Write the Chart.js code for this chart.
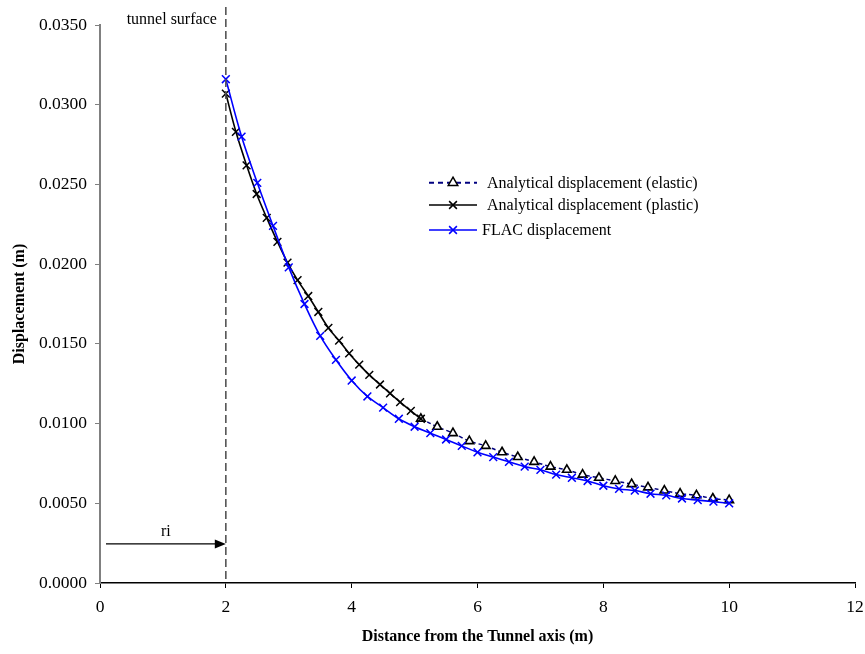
<!DOCTYPE html>
<html>
<head>
<meta charset="utf-8">
<script src="https://cdn.jsdelivr.net/npm/chart.js@4.4.1/dist/chart.umd.min.js"></script>
<style>
  html, body { margin: 0; padding: 0; background: #fff; }
  #wrap { width: 865px; height: 654px; position: relative; }
</style>
</head>
<body>
<div id="wrap"><canvas id="dispChart" width="865" height="654"></canvas></div>
<script>
// distances (m) and displacements (m)
const plasticX = [2.00, 2.16, 2.33, 2.49, 2.65, 2.82, 2.98, 3.14, 3.31, 3.47, 3.63, 3.80, 3.96, 4.12, 4.28, 4.45, 4.61, 4.77, 4.94, 5.10];
const plasticU = [0.0307, 0.0283, 0.0262, 0.0244, 0.0229, 0.0214, 0.0201, 0.0190, 0.0180, 0.0170, 0.0160, 0.0152, 0.0144, 0.0137, 0.01305, 0.01245, 0.0119, 0.01135, 0.0108, 0.0103];

const elasticX = [5.10, 5.36, 5.61, 5.87, 6.13, 6.39, 6.64, 6.90, 7.16, 7.42, 7.67, 7.93, 8.19, 8.45, 8.71, 8.97, 9.22, 9.48, 9.74, 10.00];
const elasticU = [0.0103, 0.0098, 0.0094, 0.0089, 0.0086, 0.0082, 0.0079, 0.0076, 0.0073, 0.0071, 0.0068, 0.0066, 0.0064, 0.0062, 0.0060, 0.0058, 0.0056, 0.0055, 0.0053, 0.0052];

const flacX = [2.00, 2.25, 2.50, 2.75, 3.00, 3.25, 3.50, 3.75, 4.00, 4.25, 4.50, 4.75, 5.00, 5.25, 5.50, 5.75, 6.00,
               6.25, 6.50, 6.75, 7.00, 7.25, 7.50, 7.75, 8.00, 8.25, 8.50, 8.75, 9.00, 9.25, 9.50, 9.75, 10.00];
const flacU = [0.0316, 0.0280, 0.0251, 0.0224, 0.0198, 0.0175, 0.0155, 0.0140, 0.0127, 0.0117, 0.0110, 0.0103, 0.0098, 0.0094, 0.0090, 0.0086, 0.0082,
               0.0079, 0.0076, 0.0073, 0.0071, 0.0068, 0.0066, 0.0064, 0.0061, 0.0059, 0.0058, 0.0056, 0.0055, 0.0053, 0.0052, 0.0051, 0.0050];

const xTicks = [0, 2, 4, 6, 8, 10, 12];
const yTicks = [0, 0.005, 0.010, 0.015, 0.020, 0.025, 0.030, 0.035];

const tunnelRadius = 2;
const serif = '"Liberation Serif", "Times New Roman", serif';

function pts(xs, ys){ return xs.map((x, i) => ({ x: x, y: ys[i] })); }

const legendRows = [
  { label: 'Analytical displacement (elastic)', color: '#000080', dash: [5, 4], marker: 'triangle', mColor: '#000', textX: 487 },
  { label: 'Analytical displacement (plastic)', color: '#000', dash: [], marker: 'crossRot', mColor: '#000', textX: 487 },
  { label: 'FLAC displacement', color: '#0000ff', dash: [], marker: 'crossRot', mColor: '#0000ff', textX: 482 }
];

const extras = {
  id: 'extras',
  afterDraw(c){
    const ctx = c.ctx;
    const xs = c.scales.x, ys = c.scales.y;
    const xr = xs.getPixelForValue(tunnelRadius);
    ctx.save();
    // tunnel surface line
    ctx.strokeStyle = '#555';
    ctx.lineWidth = 1.6;
    ctx.setLineDash([8, 4]);
    ctx.beginPath();
    ctx.moveTo(xr, 7);
    ctx.lineTo(xr, ys.bottom);
    ctx.stroke();
    ctx.setLineDash([]);
    ctx.fillStyle = '#000';
    ctx.font = '16px ' + serif;
    ctx.textAlign = 'right';
    ctx.textBaseline = 'middle';
    ctx.fillText('tunnel surface', xr - 9, 20);

    // ri arrow
    const ay = ys.getPixelForValue(0.00245);
    const ax0 = xs.getPixelForValue(0.095);
    ctx.strokeStyle = '#000';
    ctx.lineWidth = 1.3;
    ctx.beginPath();
    ctx.moveTo(ax0, ay);
    ctx.lineTo(xr - 8, ay);
    ctx.stroke();
    ctx.beginPath();
    ctx.moveTo(xr, ay);
    ctx.lineTo(xr - 11, ay - 4.5);
    ctx.lineTo(xr - 11, ay + 4.5);
    ctx.closePath();
    ctx.fill();
    ctx.textAlign = 'center';
    ctx.textBaseline = 'alphabetic';
    ctx.font = '16px ' + serif;
    ctx.fillText('ri', (ax0 + xr) / 2, ay - 8);

    // legend
    const rowY = [182.7, 205, 230];
    legendRows.forEach((r, i) => {
      const y = rowY[i];
      ctx.strokeStyle = r.color;
      ctx.lineWidth = r.dash.length ? 2 : 1.5;
      ctx.setLineDash(r.dash);
      ctx.beginPath();
      ctx.moveTo(429, y);
      ctx.lineTo(477, y);
      ctx.stroke();
      ctx.setLineDash([]);
      ctx.lineWidth = 1.5;
      ctx.strokeStyle = r.mColor;
      ctx.fillStyle = '#fff';
      Chart.helpers.drawPoint(ctx, { pointStyle: r.marker, radius: 5.5, borderWidth: 1.5, rotation: 0 }, 453, y);
      ctx.fillStyle = '#000';
      ctx.font = '16px ' + serif;
      ctx.textAlign = 'left';
      ctx.textBaseline = 'middle';
      ctx.fillText(r.label, r.textX, y + 1);
    });
    ctx.restore();
  }
};

new Chart(document.getElementById('dispChart'), {
  type: 'line',
  data: {
    datasets: [
      {
        label: 'FLAC displacement',
        data: pts(flacX, flacU),
        borderColor: '#0000ff', borderWidth: 1.6,
        pointStyle: 'crossRot', pointRadius: 5.5, pointBorderColor: '#0000ff', pointBorderWidth: 1.5,
        tension: 0.35, order: 0
      },
      {
        label: 'Analytical displacement (plastic)',
        data: pts(plasticX, plasticU),
        borderColor: '#000', borderWidth: 1.6,
        pointStyle: 'crossRot', pointRadius: 5.5, pointBorderColor: '#000', pointBorderWidth: 1.5,
        tension: 0.35, order: 1
      },
      {
        label: 'Analytical displacement (elastic)',
        data: pts(elasticX, elasticU),
        borderColor: '#000080', borderWidth: 1.5, borderDash: [4, 3],
        pointStyle: 'triangle', pointRadius: 5, pointBorderColor: '#000', pointBackgroundColor: '#fff', pointBorderWidth: 1.6,
        tension: 0.35, order: 2
      }
    ]
  },
  options: {
    responsive: false,
    animation: false,
    layout: { padding: { top: 25, right: 10, left: 0, bottom: 0 } },
    plugins: { legend: { display: false }, tooltip: { enabled: false } },
    scales: {
      x: {
        type: 'linear', min: 0, max: 12,
        afterBuildTicks: s => { s.ticks = xTicks.map(v => ({ value: v })); },
        afterFit: s => { s.height = 71; s.paddingRight = 0; s.paddingLeft = 0; },
        border: { color: '#000', width: 1.5 },
        grid: { drawOnChartArea: false, tickLength: 5, color: '#000', tickColor: '#000' },
        ticks: { color: '#000', font: { family: serif, size: 17.5 }, padding: 9, maxRotation: 0 },
        title: { display: true, text: 'Distance from the Tunnel axis (m)', color: '#000',
                 font: { family: serif, size: 16, weight: 'bold' }, padding: { top: 0, bottom: 8 } }
      },
      y: {
        type: 'linear', min: 0, max: 0.035,
        afterBuildTicks: s => { s.ticks = yTicks.map(v => ({ value: v })); },
        afterFit: s => { s.width = 100; s.paddingTop = 0; s.paddingBottom = 0; },
        border: { color: '#808080', width: 2 },
        grid: { drawOnChartArea: false, tickLength: 5, color: '#808080', tickColor: '#808080' },
        ticks: { color: '#000', font: { family: serif, size: 17.5 }, padding: 8, callback: v => v.toFixed(4) },
        title: { display: true, text: 'Displacement (m)', color: '#000',
                 font: { family: serif, size: 16, weight: 'bold' }, padding: { top: 10, bottom: 0 } }
      }
    }
  },
  plugins: [extras]
});
</script>
</body>
</html>
